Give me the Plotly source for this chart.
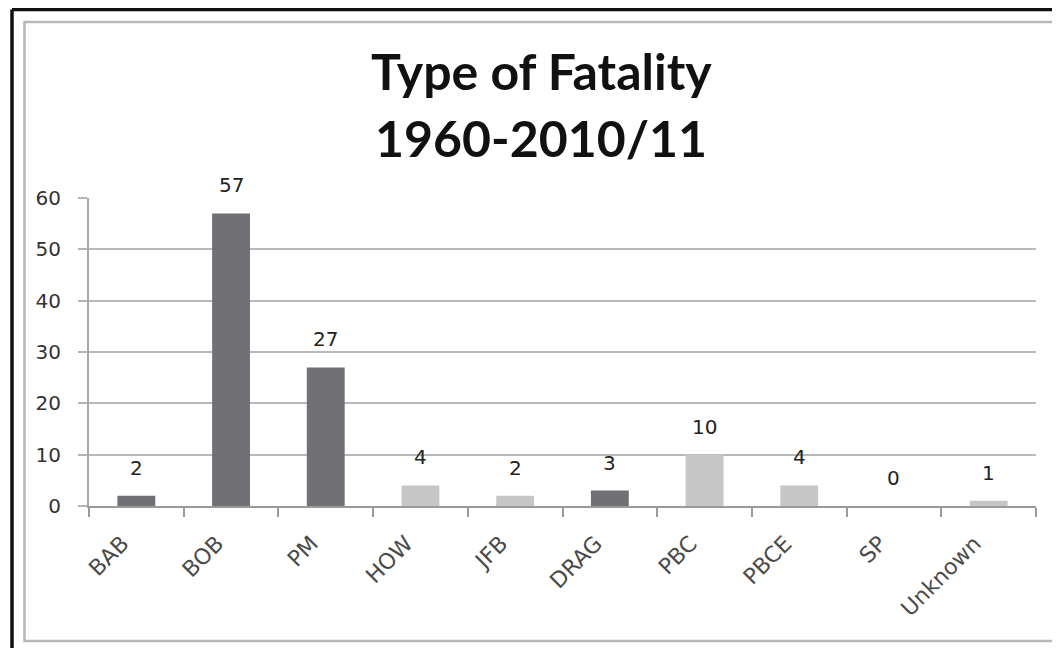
import plotly.graph_objects as go

# Fatality counts by type, 1960-2010/11
categories = ["BAB", "BOB", "PM", "HOW", "JFB", "DRAG", "PBC", "PBCE", "SP", "Unknown"]
fatalities = [2, 57, 27, 4, 2, 3, 10, 4, 0, 1]
bar_colors = ["#707075", "#707075", "#707075", "#c6c6c6", "#c6c6c6",
              "#707075", "#c6c6c6", "#c6c6c6", "#c6c6c6", "#c6c6c6"]
y_ticks = [0, 10, 20, 30, 40, 50, 60]

# figure sits 8px in from the page corner (body margin)
W, H = 1052, 640
ML, MR, MT, MB = 81, 24, 190, 142
PW, PH = W - ML - MR, H - MT - MB


def px_x(p):
    # figure pixel x -> paper x
    return (p - ML) / PW


def px_y(p):
    # figure pixel y -> paper y
    return (H - MB - p) / PH


fig = go.Figure()

fig.add_trace(
    go.Bar(
        x=categories,
        y=fatalities,
        marker=dict(color=bar_colors, line=dict(width=0)),
        width=0.4,
        hoverinfo="x+y",
    )
)

# Value labels above each bar
for cat, val in zip(categories, fatalities):
    fig.add_annotation(
        x=cat, y=val, text=str(val), showarrow=False,
        yshift=28, font=dict(family="DejaVu Sans", size=20, color="#222222"),
    )

# Two-line title, centred on the whole chart frame
for txt, cy in [("Type of Fatality", 63), ("1960-2010/11", 130)]:
    fig.add_annotation(
        x=px_x(533), y=px_y(cy), xref="paper", yref="paper",
        xanchor="center", yanchor="middle",
        text="<b>" + txt + "</b>", showarrow=False,
        font=dict(family="Lato", size=50, color="#111111"),
    )

# Frame: black outer border and grey inner border
fig.add_shape(type="line", xref="paper", yref="paper",
              x0=px_x(4), x1=px_x(W + 20), y0=px_y(1.5), y1=px_y(1.5),
              line=dict(color="#111111", width=3.5))
fig.add_shape(type="line", xref="paper", yref="paper",
              x0=px_x(4), x1=px_x(4), y0=px_y(1.5), y1=px_y(H + 20),
              line=dict(color="#111111", width=3.5))
fig.add_shape(type="rect", xref="paper", yref="paper",
              x0=px_x(16.5), x1=px_x(W + 20), y0=px_y(14), y1=px_y(633),
              line=dict(color="#b8b8b8", width=2.5))

fig.update_layout(
    width=W,
    height=H,
    margin=dict(l=ML, r=MR, t=MT, b=MB, autoexpand=False),
    paper_bgcolor="white",
    plot_bgcolor="white",
    showlegend=False,
    bargap=0.6,
    font=dict(family="DejaVu Sans", color="#333333"),
)

fig.update_xaxes(
    type="category",
    tickson="boundaries",
    ticks="outside",
    ticklen=9,
    tickwidth=2,
    tickcolor="#9a9a9a",
    showgrid=False,
    showline=True,
    linecolor="#9a9a9a",
    linewidth=2,
    tickangle=-45,
    ticklabelstandoff=14,
    ticklabelshift=-14,
    tickfont=dict(family="DejaVu Sans", size=22, color="#4a4a4a"),
)

fig.update_yaxes(
    range=[0, 60],
    tickvals=y_ticks,
    ticks="outside",
    ticklen=9,
    tickwidth=2,
    tickcolor="#b4b4b4",
    showgrid=True,
    gridcolor="#b8b8b8",
    gridwidth=2,
    showline=True,
    linecolor="#a8a8a8",
    linewidth=2,
    zeroline=False,
    ticklabelstandoff=13,
    tickfont=dict(family="DejaVu Sans", size=20, color="#333333"),
)

fig.write_html("out.html")
